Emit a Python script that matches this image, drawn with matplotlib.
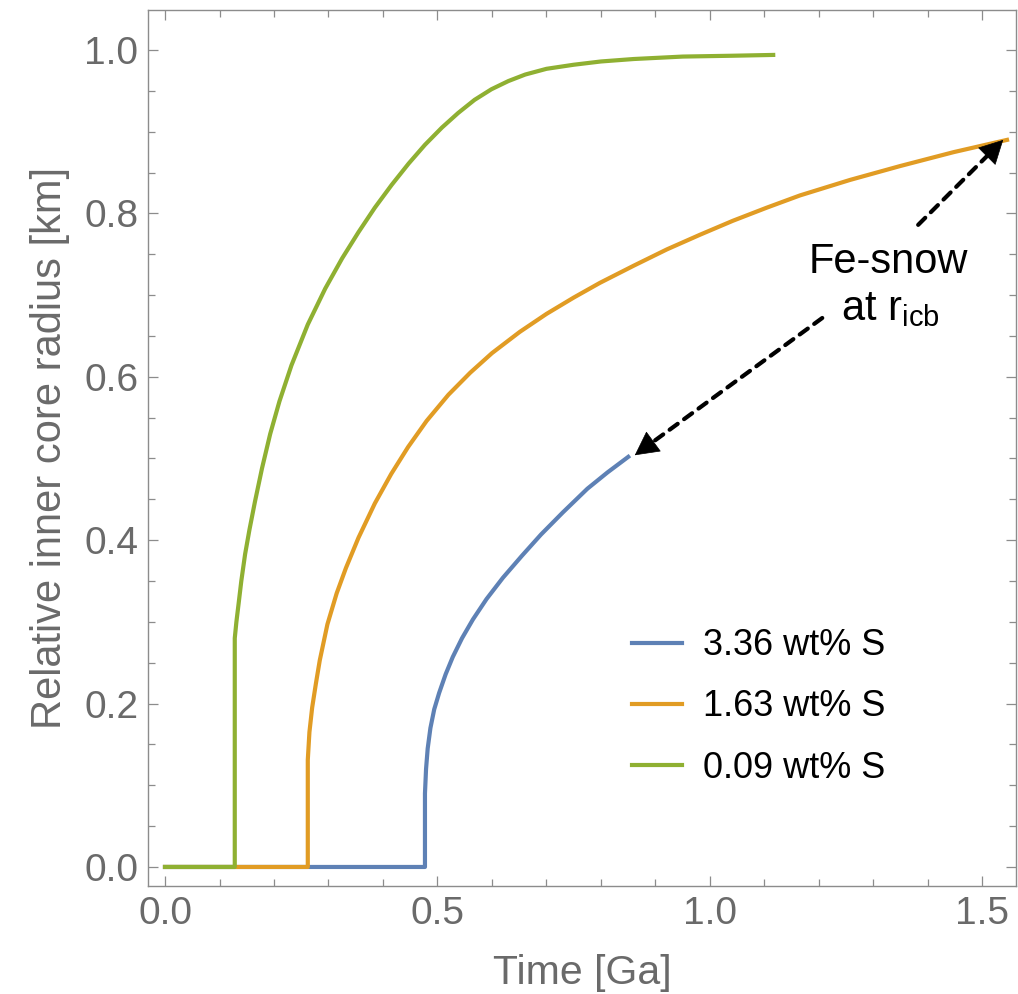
import matplotlib
matplotlib.use('Agg')
import numpy as np
import matplotlib.pyplot as plt
from matplotlib.ticker import MultipleLocator

plt.rcParams['font.family'] = ['Liberation Sans', 'DejaVu Sans']
plt.rcParams['mathtext.fontset'] = 'custom'
plt.rcParams['mathtext.rm'] = 'Liberation Sans'

# 数据
t_blue = [0.0, 0.477, 0.477, 0.479, 0.482, 0.487, 0.494, 0.503, 0.515, 0.528,
          0.545, 0.565, 0.590, 0.620, 0.655, 0.690, 0.730, 0.775, 0.812, 0.850]
r_blue = [0.0, 0.0, 0.090, 0.120, 0.145, 0.170, 0.193, 0.213, 0.236, 0.257,
          0.280, 0.303, 0.328, 0.354, 0.381, 0.407, 0.434, 0.463, 0.483, 0.502]

t_orange = [0.0, 0.262, 0.262, 0.265, 0.270, 0.277, 0.284, 0.298, 0.315, 0.332,
            0.355, 0.385, 0.415, 0.446, 0.480, 0.520, 0.560, 0.600, 0.651,
            0.700, 0.750, 0.798, 0.860, 0.921, 0.982, 1.042, 1.104, 1.165,
            1.257, 1.349, 1.447, 1.545]
r_orange = [0.0, 0.0, 0.131, 0.165, 0.195, 0.225, 0.253, 0.297, 0.335, 0.366,
            0.403, 0.445, 0.481, 0.514, 0.546, 0.578, 0.605, 0.629, 0.655,
            0.677, 0.697, 0.715, 0.736, 0.756, 0.774, 0.791, 0.807, 0.822,
            0.841, 0.858, 0.875, 0.890]

t_green = [0.0, 0.128, 0.128, 0.131, 0.135, 0.140, 0.147, 0.155, 0.165, 0.178,
           0.193, 0.210, 0.232, 0.262, 0.294, 0.325, 0.355, 0.385, 0.416,
           0.447, 0.477, 0.508, 0.538, 0.568, 0.599, 0.630, 0.661, 0.700,
           0.750, 0.800, 0.860, 0.950, 1.040, 1.116]
r_green = [0.0, 0.0, 0.280, 0.300, 0.322, 0.350, 0.383, 0.413, 0.447, 0.488,
           0.530, 0.570, 0.614, 0.664, 0.708, 0.745, 0.777, 0.807, 0.835,
           0.861, 0.884, 0.905, 0.923, 0.939, 0.952, 0.962, 0.970, 0.977,
           0.982, 0.986, 0.989, 0.992, 0.993, 0.994]

labels = ['3.36 wt% S', '1.63 wt% S', '0.09 wt% S']
colors = ['#5E81B5', '#E19C24', '#8FB032']

# 箭头 (起点, 终点)
arrow_up = ((1.382, 0.786), (1.538, 0.890))
arrow_down = ((1.206, 0.672), (0.862, 0.504))

gray = '#6a6a6a'
frame_gray = '#8c8c8c'

fig = plt.figure(figsize=(10.18, 9.94), dpi=100)
ax = fig.add_axes([148 / 1018, 1 - 886 / 994, (1016 - 148) / 1018, (886 - 10) / 994])

for t, r, c, lab in zip([t_blue, t_orange, t_green], [r_blue, r_orange, r_green], colors, labels):
    ax.plot(t, r, color=c, lw=3, label=lab, solid_joinstyle='round')

ax.set_xlim(-0.0312, 1.5615)
ax.set_ylim(-0.0233, 1.049)

ax.xaxis.set_major_locator(MultipleLocator(0.5))
ax.xaxis.set_minor_locator(MultipleLocator(0.1))
ax.yaxis.set_major_locator(MultipleLocator(0.2))
ax.yaxis.set_minor_locator(MultipleLocator(0.05))
ax.xaxis.set_major_formatter(plt.FuncFormatter(lambda v, p: f'{v:.1f}'))
ax.yaxis.set_major_formatter(plt.FuncFormatter(lambda v, p: f'{v:.1f}'))

ax.tick_params(which='both', direction='in', top=True, right=True,
               color=frame_gray, width=0.9, labelcolor=gray, labelsize=28)
ax.tick_params(which='major', length=7.5, pad=7)
ax.tick_params(which='minor', length=5)
for s in ax.spines.values():
    s.set_color(frame_gray)
    s.set_linewidth(1.0)

ax.set_xlabel('Time [Ga]', fontsize=29.5, color=gray, labelpad=16)
ax.set_ylabel('Relative inner core radius [km]', fontsize=30, color=gray, labelpad=10)

leg = ax.legend(loc='center left', bbox_to_anchor=(632 / 1018, 1 - 707 / 994),
                bbox_transform=fig.transFigure, frameon=False, fontsize=26,
                handlelength=1.38, handletextpad=0.58, labelspacing=0.73,
                borderpad=0, borderaxespad=0)

# 虚线 + 实心箭头
for start, tip in [arrow_up, arrow_down]:
    ax.annotate('', xy=tip, xytext=start,
                arrowprops=dict(arrowstyle='-', lw=3, ls=(0, (2.4, 1.9)),
                                color='black', shrinkA=0, shrinkB=10))
    d = ax.transData.transform(tip) - ax.transData.transform(start)
    d = d / np.hypot(*d)
    ax.annotate('', xy=tip, xytext=(-d[0] * 17, -d[1] * 17), textcoords='offset points',
                arrowprops=dict(arrowstyle='-|>,head_length=0.8,head_width=0.42',
                                mutation_scale=20, lw=0.5, color='black',
                                shrinkA=0, shrinkB=0))

ax.text(1.327, 0.727, 'Fe-snow', fontsize=30, ha='center', va='baseline')
ax.text(1.330, 0.670, r'at r$_{\mathrm{icb}}$', fontsize=30, ha='center', va='baseline')

fig.savefig('out.png', dpi=100)
